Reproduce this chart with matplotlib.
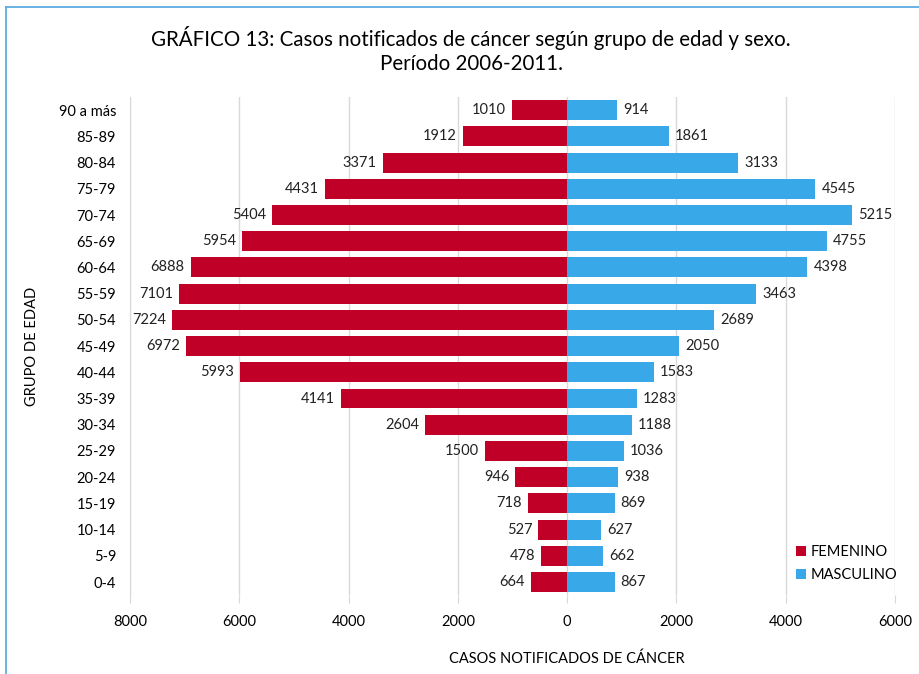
import matplotlib.pyplot as plt
from matplotlib.lines import Line2D

plt.rcParams['font.family'] = ['Lato', 'DejaVu Sans']

grupos = ['0-4', '5-9', '10-14', '15-19', '20-24', '25-29', '30-34', '35-39',
          '40-44', '45-49', '50-54', '55-59', '60-64', '65-69', '70-74',
          '75-79', '80-84', '85-89', '90 a más']
femenino = [664, 478, 527, 718, 946, 1500, 2604, 4141, 5993, 6972, 7224,
            7101, 6888, 5954, 5404, 4431, 3371, 1912, 1010]
masculino = [867, 662, 627, 869, 938, 1036, 1188, 1283, 1583, 2050, 2689,
             3463, 4398, 4755, 5215, 4545, 3133, 1861, 914]
xticks = [-8000, -6000, -4000, -2000, 0, 2000, 4000, 6000]

rojo = '#C00027'
azul = '#38A8E8'

fig = plt.figure(figsize=(9.2, 6.74), dpi=100)
ax = fig.add_axes([0.1413, 0.117, 0.8315, 0.739])

y = range(len(grupos))
ax.barh(y, [-v for v in femenino], height=0.76, color=rojo, label='FEMENINO', zorder=3)
ax.barh(y, masculino, height=0.76, color=azul, label='MASCULINO', zorder=3)

for i in y:
    ax.text(-femenino[i] - 110, i, str(femenino[i]), ha='right', va='center',
            fontsize=10.5, color='#222222')
    ax.text(masculino[i] + 110, i, str(masculino[i]), ha='left', va='center',
            fontsize=10.5, color='#222222')

ax.set_xlim(-8000, 6000)
ax.set_ylim(-0.5, len(grupos) - 0.5)
ax.set_xticks(xticks)
ax.set_xticklabels([str(abs(v)) for v in xticks], fontsize=10.5)
ax.set_yticks(list(y))
ax.set_yticklabels(grupos, fontsize=10.5)
ax.tick_params(axis='y', length=0, pad=10)
ax.tick_params(axis='x', length=6, color='#d9d9d9', pad=8, bottom=True)
ax.grid(axis='x', color='#d9d9d9', linewidth=1, zorder=0)
for s in ['top', 'right', 'bottom']:
    ax.spines[s].set_visible(False)
ax.spines['left'].set_color('#d9d9d9')
ax.spines['left'].set_zorder(4)

ax.set_xlabel('CASOS NOTIFICADOS DE CÁNCER', fontsize=10.5)
ax.xaxis.set_label_coords(8000 / 14000, -0.113)
ax.xaxis.label.set_va('top')
ax.set_ylabel('GRUPO DE EDAD', fontsize=10.5, labelpad=14)

ax.legend(loc='lower right', bbox_to_anchor=(1.02, 0.0), frameon=False,
          fontsize=10.5, handlelength=0.7, handleheight=0.7, handletextpad=0.3,
          labelspacing=0.6)

fig.text(0.512, 0.962, 'GRÁFICO 13: Casos notificados de cáncer según grupo de edad y sexo.\nPeríodo 2006-2011.',
         ha='center', va='top', fontsize=14.8, linespacing=1.25)

# marco superior e izquierdo
fig.add_artist(Line2D([6.5 / 920, 1.0], [1 - 6.5 / 674] * 2, transform=fig.transFigure,
                      color='#5DADE2', linewidth=1.3))
fig.add_artist(Line2D([6.5 / 920] * 2, [0.0, 1 - 6.5 / 674], transform=fig.transFigure,
                      color='#5DADE2', linewidth=1.3))

fig.savefig('out.png', dpi=100)
